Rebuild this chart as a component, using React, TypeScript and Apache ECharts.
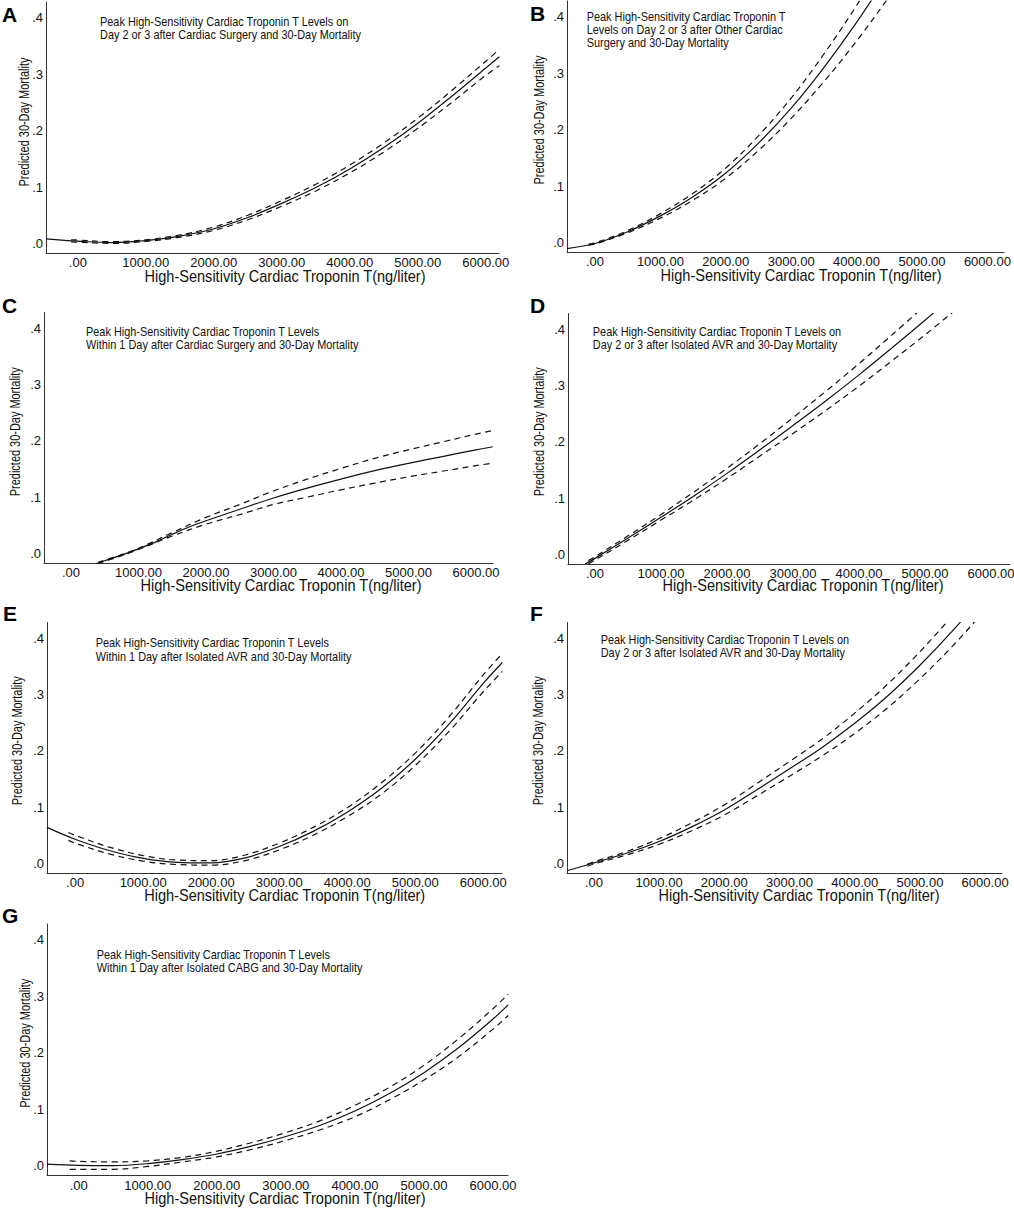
import React, { useEffect, useRef } from "react";
import * as echarts from "echarts";

// ---------------- data ----------------
const xTicks = [0, 1000, 2000, 3000, 4000, 5000, 6000];
const xTickLabels = [".00", "1000.00", "2000.00", "3000.00", "4000.00", "5000.00", "6000.00"];
const yTicks = [0, 0.1, 0.2, 0.3, 0.4];
const yTickLabels = [".0", ".1", ".2", ".3", ".4"];

const panelLetters = ["A", "B", "C", "D", "E", "F", "G"];
const panelNotes = [
  "Peak High-Sensitivity Cardiac Troponin T Levels on\nDay 2 or 3 after Cardiac Surgery and 30-Day Mortality",
  "Peak High-Sensitivity Cardiac Troponin T\nLevels on Day 2 or 3 after Other Cardiac\nSurgery and 30-Day Mortality",
  "Peak High-Sensitivity Cardiac Troponin T Levels\nWithin 1 Day after Cardiac Surgery and 30-Day Mortality",
  "Peak High-Sensitivity Cardiac Troponin T Levels on\nDay 2 or 3 after Isolated AVR and 30-Day Mortality",
  "Peak High-Sensitivity Cardiac Troponin T Levels\nWithin 1 Day after Isolated AVR and 30-Day Mortality",
  "Peak High-Sensitivity Cardiac Troponin T Levels on\nDay 2 or 3 after Isolated AVR and 30-Day Mortality",
  "Peak High-Sensitivity Cardiac Troponin T Levels\nWithin 1 Day after Isolated CABG and 30-Day Mortality",
];
const xTitle = "High-Sensitivity Cardiac Troponin T(ng/liter)";
const yTitle = "Predicted 30-Day Mortality";

type Pt = [number, number];

const fitA: Pt[] = [[-468, 0.008], [0, 0.004], [500, 0.0015], [1000, 0.005], [1500, 0.013], [2000, 0.026], [2500, 0.046], [3000, 0.071], [3500, 0.099], [4000, 0.132], [4500, 0.17], [5000, 0.213], [5500, 0.261], [6000, 0.311], [6200, 0.331]];
const upA: Pt[] = [[-100, 0.0065], [0, 0.006], [500, 0.003], [1000, 0.0065], [1500, 0.015], [2000, 0.029], [2500, 0.05], [3000, 0.076], [3500, 0.105], [4000, 0.139], [4500, 0.178], [5000, 0.222], [5500, 0.271], [6000, 0.323], [6200, 0.344]];
const loA: Pt[] = [[-100, 0.0025], [0, 0.002], [500, 0.0], [1000, 0.0035], [1500, 0.011], [2000, 0.023], [2500, 0.042], [3000, 0.066], [3500, 0.093], [4000, 0.125], [4500, 0.162], [5000, 0.204], [5500, 0.25], [6000, 0.298], [6200, 0.315]];

const fitB: Pt[] = [[-428, -0.011], [0, -0.002], [500, 0.019], [1000, 0.047], [1500, 0.081], [2000, 0.123], [2500, 0.176], [3000, 0.238], [3500, 0.31], [4000, 0.39], [4500, 0.478]];
const upB: Pt[] = [[-100, -0.003], [0, -0.001], [500, 0.021], [1000, 0.051], [1500, 0.087], [2000, 0.132], [2500, 0.189], [3000, 0.256], [3500, 0.334], [4000, 0.42], [4500, 0.515]];
const loB: Pt[] = [[-100, -0.005], [0, -0.003], [500, 0.017], [1000, 0.043], [1500, 0.075], [2000, 0.114], [2500, 0.163], [3000, 0.22], [3500, 0.285], [4000, 0.357], [4500, 0.436], [5000, 0.52]];

const fitC: Pt[] = [[300, -0.021], [500, -0.013], [750, -0.003], [1000, 0.008], [1250, 0.02], [1500, 0.034], [1750, 0.047], [2000, 0.058], [2500, 0.0785], [3000, 0.0985], [3500, 0.116], [4000, 0.132], [4500, 0.147], [5000, 0.16], [5500, 0.172], [6000, 0.184], [6250, 0.1895]];
const upC: Pt[] = [[400, -0.016], [750, -0.002], [1000, 0.009], [1500, 0.037], [2000, 0.064], [2500, 0.087], [3000, 0.111], [3500, 0.132], [4000, 0.151], [4500, 0.169], [5000, 0.184], [5500, 0.198], [6000, 0.212], [6250, 0.2185]];
const loC: Pt[] = [[400, -0.018], [750, -0.004], [1000, 0.007], [1500, 0.031], [2000, 0.052], [2500, 0.069], [3000, 0.087], [3500, 0.1], [4000, 0.113], [4500, 0.125], [5000, 0.136], [5500, 0.146], [6000, 0.156], [6250, 0.1605]];

const fitD: Pt[] = [[-150, -0.017], [0, -0.007], [500, 0.029], [1000, 0.066], [1500, 0.104], [2000, 0.144], [2500, 0.186], [3000, 0.229], [3500, 0.273], [4000, 0.319], [4500, 0.367], [5000, 0.416], [5500, 0.467]];
const upD: Pt[] = [[-100, -0.011], [0, -0.004], [500, 0.033], [1000, 0.071], [1500, 0.111], [2000, 0.153], [2500, 0.197], [3000, 0.243], [3500, 0.29], [4000, 0.339], [4500, 0.39], [5000, 0.442]];
const loD: Pt[] = [[-100, -0.017], [0, -0.01], [500, 0.025], [1000, 0.061], [1500, 0.097], [2000, 0.135], [2500, 0.175], [3000, 0.215], [3500, 0.256], [4000, 0.299], [4500, 0.344], [5000, 0.39], [5500, 0.438]];

const fitE: Pt[] = [[-414, 0.064], [0, 0.043], [500, 0.023], [1000, 0.009], [1500, 0.002], [2000, 0.001], [2500, 0.01], [3000, 0.03], [3500, 0.057], [4000, 0.091], [4500, 0.133], [5000, 0.185], [5500, 0.248], [6000, 0.32], [6280, 0.357]];
const upE: Pt[] = [[-100, 0.055], [0, 0.05], [500, 0.029], [1000, 0.014], [1500, 0.006], [2000, 0.005], [2500, 0.015], [3000, 0.036], [3500, 0.064], [4000, 0.099], [4500, 0.143], [5000, 0.196], [5500, 0.261], [6000, 0.335], [6280, 0.373]];
const loE: Pt[] = [[-100, 0.041], [0, 0.036], [500, 0.017], [1000, 0.004], [1500, -0.002], [2000, -0.003], [2500, 0.005], [3000, 0.024], [3500, 0.05], [4000, 0.083], [4500, 0.123], [5000, 0.174], [5500, 0.235], [6000, 0.305], [6280, 0.341]];

const fitF: Pt[] = [[-413, -0.013], [0, 0.001], [500, 0.018], [1000, 0.039], [1500, 0.065], [2000, 0.095], [2500, 0.131], [3000, 0.168], [3500, 0.206], [4000, 0.249], [4500, 0.297], [5000, 0.352], [5500, 0.413], [6000, 0.48]];
const upF: Pt[] = [[-100, -0.001], [0, 0.003], [500, 0.021], [1000, 0.044], [1500, 0.072], [2000, 0.104], [2500, 0.142], [3000, 0.181], [3500, 0.221], [4000, 0.267], [4500, 0.318], [5000, 0.376], [5500, 0.44]];
const loF: Pt[] = [[-100, -0.005], [0, -0.001], [500, 0.015], [1000, 0.034], [1500, 0.058], [2000, 0.086], [2500, 0.12], [3000, 0.155], [3500, 0.191], [4000, 0.231], [4500, 0.276], [5000, 0.328], [5500, 0.386], [6000, 0.45]];

const fitG: Pt[] = [[-459, 0.003], [0, 0.001], [500, 0.0005], [1000, 0.004], [1500, 0.011], [2000, 0.021], [2500, 0.035], [3000, 0.052], [3500, 0.072], [4000, 0.097], [4500, 0.128], [5000, 0.165], [5500, 0.209], [6000, 0.26], [6220, 0.285]];
const upG: Pt[] = [[-130, 0.009], [0, 0.008], [500, 0.007], [1000, 0.009], [1500, 0.015], [2000, 0.026], [2500, 0.041], [3000, 0.059], [3500, 0.08], [4000, 0.107], [4500, 0.139], [5000, 0.178], [5500, 0.225], [6000, 0.278], [6220, 0.304]];
const loG: Pt[] = [[-130, -0.006], [0, -0.006], [500, -0.006], [1000, -0.001], [1500, 0.007], [2000, 0.016], [2500, 0.029], [3000, 0.045], [3500, 0.064], [4000, 0.087], [4500, 0.117], [5000, 0.152], [5500, 0.193], [6000, 0.242], [6220, 0.266]];

const fits = [fitA, fitB, fitC, fitD, fitE, fitF, fitG];
const uppers = [upA, upB, upC, upD, upE, upF, upG];
const lowers = [loA, loB, loC, loD, loE, loF, loG];

// ---------------- layout (pixels) ----------------
const grids = [
  [46, 2, 453, 251],
  [567, 1, 437, 251],
  [44, 312.5, 449, 250.5],
  [568, 313.5, 442, 250.5],
  [47, 622.5, 455, 250.5],
  [567, 622.5, 435, 250.5],
  [47, 924, 461, 251.5],
];
const xRanges = [
  [-468, 6194],
  [-428, 6254],
  [-400, 6252],
  [-409, 6288],
  [-413, 6275],
  [-413, 6259],
  [-459, 6217],
];
const Y_MIN = -0.017;
const Y_MAX = 0.428;

const letterPos = [[2, 14], [530, 13], [2, 305.5], [530, 305.5], [3, 613], [530, 613], [2, 915.5]];
const notePos = [[100, 21.7], [586.7, 16.7], [86, 331.7], [592.8, 331.5], [95.7, 643.3], [600.7, 640], [96.7, 954.5]];
const xTitlePos = [[285, 276], [801, 275], [281, 585], [803, 585], [284.7, 895], [799, 895], [285, 1198.3]];
const yTitlePos = [[24, 122], [539.3, 120], [15, 431.7], [539.3, 431.7], [17.3, 740.7], [538.3, 740.7], [25, 1043.3]];

const SANS = '"Liberation Sans", Arial, sans-serif';
const NARROW = '"Liberation Sans Narrow", "Arial Narrow", "Liberation Sans", sans-serif';
const INK = "#111";
const NOTE_LH = 13.3;

function buildOption() {
  const series: any[] = [];
  fits.forEach((d, i) => {
    series.push({
      type: "line", xAxisIndex: i, yAxisIndex: i, data: d, showSymbol: false, smooth: 0.35,
      clip: true, silent: true, lineStyle: { color: INK, width: 1.2 },
    });
    [uppers[i], lowers[i]].forEach((ci) => {
      series.push({
        type: "line", xAxisIndex: i, yAxisIndex: i, data: ci, showSymbol: false, smooth: 0.35,
        clip: true, silent: true, lineStyle: { color: INK, width: 1.2, type: [6, 4.5] },
      });
    });
  });

  const graphics: any[] = [];
  panelLetters.forEach((L, i) => {
    graphics.push({
      type: "text", x: letterPos[i][0], y: letterPos[i][1],
      style: { text: L, font: `bold 21px ${SANS}`, fill: "#000", textAlign: "left", textVerticalAlign: "middle", align: "left", verticalAlign: "middle" },
    });
    graphics.push({
      type: "text", x: notePos[i][0], y: notePos[i][1] - NOTE_LH / 2, scaleX: 0.91,
      style: { text: panelNotes[i], font: `12px ${SANS}`, lineHeight: NOTE_LH, fill: INK, textAlign: "left", textVerticalAlign: "top", align: "left", verticalAlign: "top" },
    });
    graphics.push({
      type: "text", x: xTitlePos[i][0], y: xTitlePos[i][1], scaleX: 0.91,
      style: { text: xTitle, font: `16px ${SANS}`, fill: INK, textAlign: "center", textVerticalAlign: "middle", align: "center", verticalAlign: "middle" },
    });
    graphics.push({
      type: "text", x: yTitlePos[i][0], y: yTitlePos[i][1], rotation: Math.PI / 2, scaleX: 0.73,
      style: { text: yTitle, font: `15px ${SANS}`, fill: INK, textAlign: "center", textVerticalAlign: "middle", align: "center", verticalAlign: "middle" },
    });
  });

  return {
    animation: false,
    backgroundColor: "#fff",
    grid: grids.map((g) => ({ left: g[0], top: g[1], width: g[2], height: g[3], containLabel: false, outerBoundsMode: "none" })),
    xAxis: grids.map((_, i) => ({
      type: "value", gridIndex: i, min: xRanges[i][0], max: xRanges[i][1],
      axisLine: { show: true, onZero: false, lineStyle: { color: "#333", width: 1 } },
      axisTick: { show: false },
      splitLine: { show: false },
      axisLabel: {
        customValues: xTicks, margin: 3, color: INK, fontFamily: NARROW, fontSize: 13, hideOverlap: false,
        formatter: (v: number) => xTickLabels[xTicks.indexOf(Math.round(v))] ?? "",
      },
    })),
    yAxis: grids.map((_, i) => ({
      type: "value", gridIndex: i, min: Y_MIN, max: Y_MAX,
      axisLine: { show: true, onZero: false, lineStyle: { color: "#333", width: 1 } },
      axisTick: { show: false },
      splitLine: { show: false },
      axisLabel: {
        customValues: yTicks, margin: 3, color: INK, fontFamily: NARROW, fontSize: 13, hideOverlap: false,
        formatter: (v: number) => yTickLabels[Math.round(v * 10)] ?? "",
      },
    })),
    series,
    graphic: { elements: graphics },
  };
}

export default function App() {
  const ref = useRef<HTMLDivElement>(null);
  useEffect(() => {
    if (!ref.current) return;
    const chart = echarts.init(ref.current, undefined, { renderer: "svg" });
    chart.setOption(buildOption() as any);
    return () => chart.dispose();
  }, []);
  return (
    <div
      ref={ref}
      style={{ position: "absolute", left: 0, top: 0, width: 1014, height: 1208, background: "#fff" }}
    />
  );
}
